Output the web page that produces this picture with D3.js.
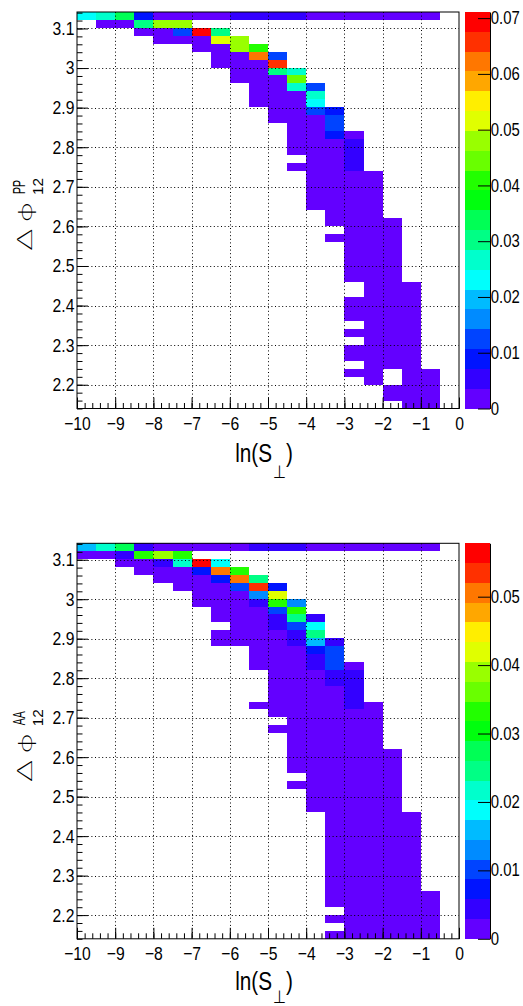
<!DOCTYPE html>
<html>
<head>
<meta charset="utf-8">
<script src="https://cdn.jsdelivr.net/npm/d3@7"></script>
<style>
  html, body { margin: 0; padding: 0; background: #fff; }
  svg { display: block; }
  text { font-family: "Liberation Sans", Arial, Helvetica, sans-serif; fill: #000; }
  .thin { font-family: "Noto Sans", "Open Sans", Inter, "Liberation Sans", sans-serif; font-weight: 200; }
</style>
</head>
<body>
<svg id="chart" width="523" height="1006"></svg>
<script>
// ---- axis definitions ----
const xDomain = [-10, 0];
const yDomain = [2.14, Math.PI];
const xBinWidth = 0.5;
const yBinCount = 50;
const yTopEdge = 3.14;   // nominal upper edge of the highest y bin
const yStep = 0.02;      // nominal y bin width
const xTicks = [-10, -9, -8, -7, -6, -5, -4, -3, -2, -1, 0];
const yTicks = [2.2, 2.3, 2.4, 2.5, 2.6, 2.7, 2.8, 2.9, 3.0, 3.1];
const ppZTicks = [0, 0.01, 0.02, 0.03, 0.04, 0.05, 0.06, 0.07];
const aaZTicks = [0, 0.01, 0.02, 0.03, 0.04, 0.05];
const ppZMax = 0.0711;
const aaZMax = 0.0578;

// ---- bin contents: [x low edge, upper y edge of first bin, contents going down in y] ----
const ppBins = [
  [-10, 3.14, [0.0231]],
  [-9.5, 3.14, [0.0267, 0.0015]],
  [-9, 3.14, [0.0338, 0.0015]],
  [-8.5, 3.14, [0.0089, 0.0302, 0.0015]],
  [-8, 3.14, [0.0015, 0.0480, 0.0015, 0.0015]],
  [-7.5, 3.14, [0.0015, 0.0480, 0.0124, 0.0015]],
  [-7, 3.14, [0.0015]],
  [-7, 3.10, [0.0711, 0.0015, 0.0015]],
  [-6.5, 3.14, [0.0015]],
  [-6.5, 3.10, [0.0302, 0.0516, 0.0015, 0.0015, 0.0015]],
  [-6, 3.14, [0.0053]],
  [-6, 3.08, [0.0480, 0.0480, 0.0015, 0.0015, 0.0015, 0.0015]],
  [-5.5, 3.14, [0.0053]],
  [-5.5, 3.06, [0.0409, 0.0622, 0.0015, 0.0015, 0.0015, 0.0015, 0.0015, 0.0015]],
  [-5, 3.14, [0.0053]],
  [-5, 3.04, [0.0124, 0.0658, 0.0302, 0.0015, 0.0015, 0.0015, 0.0015, 0.0015, 0.0015]],
  [-4.5, 3.14, [0.0053]],
  [-4.5, 3.00, [0.0267, 0.0444, 0.0267, 0.0015, 0.0015, 0.0015, 0.0015, 0.0015, 0.0015, 0.0015, 0.0015]],
  [-4.5, 2.76, [0.0015]],
  [-4, 3.14, [0.0015]],
  [-4, 2.96, [0.0124, 0.0267, 0.0231, 0.0124, 0.0015, 0.0015, 0.0015, 0.0015, 0.0015, 0.0015,
              0.0015, 0.0015, 0.0015, 0.0015, 0.0015, 0.0015]],
  [-3.5, 3.14, [0.0015]],
  [-3.5, 2.90, [0.0089, 0.0124, 0.0124, 0.0089, 0.0015, 0.0015, 0.0015, 0.0015, 0.0015, 0.0015,
                0.0015, 0.0015, 0.0015, 0.0015, 0.0015]],
  [-3.5, 2.58, [0.0015]],
  [-3, 3.14, [0.0015]],
  [-3, 2.84, [0.0015, 0.0053, 0.0053, 0.0053, 0.0053, 0.0015, 0.0015, 0.0015, 0.0015, 0.0015,
              0.0015, 0.0015, 0.0015, 0.0015, 0.0015, 0.0015, 0.0015, 0.0015, 0.0015]],
  [-3, 2.42, [0.0015, 0.0015, 0.0015]],
  [-3, 2.34, [0.0015]],
  [-3, 2.30, [0.0015, 0.0015]],
  [-3, 2.24, [0.0015]],
  [-2.5, 3.14, [0.0015]],
  [-2.5, 2.74, [0.0015, 0.0015, 0.0015, 0.0015, 0.0015, 0.0015, 0.0015, 0.0015, 0.0015, 0.0015,
                0.0015, 0.0015, 0.0015, 0.0015, 0.0015, 0.0015, 0.0015, 0.0015, 0.0015, 0.0015,
                0.0015, 0.0015, 0.0015, 0.0015, 0.0015, 0.0015, 0.0015]],
  [-2, 3.14, [0.0015]],
  [-2, 2.62, [0.0015, 0.0015, 0.0015, 0.0015, 0.0015, 0.0015, 0.0015, 0.0015, 0.0015, 0.0015,
              0.0015, 0.0015, 0.0015, 0.0015, 0.0015, 0.0015, 0.0015, 0.0015, 0.0015]],
  [-2, 2.20, [0.0015, 0.0015]],
  [-1.5, 3.14, [0.0015]],
  [-1.5, 2.46, [0.0015, 0.0015, 0.0015, 0.0015, 0.0015, 0.0015, 0.0015, 0.0015, 0.0015, 0.0015,
                0.0015, 0.0015, 0.0015, 0.0015, 0.0015, 0.0015]],
  [-1, 3.14, [0.0015]],
  [-1, 2.24, [0.0015, 0.0015, 0.0015, 0.0015, 0.0015]]
];

const aaBins = [
  [-10, 3.14, [0.0159, 0.0012]],
  [-9.5, 3.14, [0.0217, 0.0012]],
  [-9, 3.14, [0.0275, 0.0043, 0.0012]],
  [-8.5, 3.14, [0.0043, 0.0332, 0.0012, 0.0012]],
  [-8, 3.14, [0.0012, 0.0390, 0.0043, 0.0012, 0.0012]],
  [-7.5, 3.14, [0.0012, 0.0332, 0.0217, 0.0012, 0.0012, 0.0012]],
  [-7, 3.14, [0.0012]],
  [-7, 3.10, [0.0578, 0.0072, 0.0012, 0.0012, 0.0012, 0.0012]],
  [-6.5, 3.14, [0.0012]],
  [-6.5, 3.10, [0.0188, 0.0506, 0.0072, 0.0012, 0.0012, 0.0012, 0.0012, 0.0012]],
  [-6.5, 2.92, [0.0012, 0.0012]],
  [-6, 3.14, [0.0012]],
  [-6, 3.08, [0.0332, 0.0506, 0.0101, 0.0012, 0.0012, 0.0012, 0.0012, 0.0012, 0.0012, 0.0012]],
  [-5.5, 3.14, [0.0043]],
  [-5.5, 3.06, [0.0246, 0.0535, 0.0130, 0.0043, 0.0012, 0.0012, 0.0012, 0.0012, 0.0012, 0.0012,
                0.0012, 0.0012]],
  [-5.5, 2.74, [0.0012]],
  [-5, 3.14, [0.0043]],
  [-5, 3.04, [0.0072, 0.0419, 0.0332, 0.0101, 0.0043, 0.0043, 0.0012, 0.0012, 0.0012, 0.0012,
              0.0012, 0.0012, 0.0012, 0.0012, 0.0012, 0.0012, 0.0012]],
  [-5, 2.68, [0.0012]],
  [-4.5, 3.14, [0.0043]],
  [-4.5, 3.00, [0.0130, 0.0332, 0.0246, 0.0101, 0.0043, 0.0043, 0.0012, 0.0012, 0.0012, 0.0012,
                0.0012, 0.0012, 0.0012, 0.0012, 0.0012, 0.0012, 0.0012, 0.0012, 0.0012, 0.0012,
                0.0012, 0.0012]],
  [-4.5, 2.54, [0.0012]],
  [-4, 3.14, [0.0012]],
  [-4, 2.96, [0.0043, 0.0188, 0.0246, 0.0159, 0.0072, 0.0043, 0.0043, 0.0012, 0.0012, 0.0012,
              0.0012, 0.0012, 0.0012, 0.0012, 0.0012, 0.0012, 0.0012, 0.0012, 0.0012, 0.0012,
              0.0012, 0.0012, 0.0012, 0.0012, 0.0012]],
  [-3.5, 3.14, [0.0012]],
  [-3.5, 2.90, [0.0043, 0.0101, 0.0101, 0.0101, 0.0043, 0.0043, 0.0012, 0.0012, 0.0012, 0.0012,
                0.0012, 0.0012, 0.0012, 0.0012, 0.0012, 0.0012, 0.0012, 0.0012, 0.0012, 0.0012,
                0.0012, 0.0012, 0.0012, 0.0012, 0.0012, 0.0012, 0.0012, 0.0012, 0.0012, 0.0012,
                0.0012, 0.0012, 0.0012, 0.0012]],
  [-3.5, 2.20, [0.0012]],
  [-3.5, 2.16, [0.0012]],
  [-3, 3.14, [0.0012]],
  [-3, 2.84, [0.0012, 0.0043, 0.0043, 0.0043, 0.0043, 0.0043, 0.0012, 0.0012, 0.0012, 0.0012,
              0.0012, 0.0012, 0.0012, 0.0012, 0.0012, 0.0012, 0.0012, 0.0012, 0.0012, 0.0012,
              0.0012, 0.0012, 0.0012, 0.0012, 0.0012, 0.0012, 0.0012, 0.0012, 0.0012, 0.0012,
              0.0012, 0.0012, 0.0012, 0.0012, 0.0012]],
  [-2.5, 3.14, [0.0012]],
  [-2.5, 2.74, [0.0012, 0.0012, 0.0012, 0.0012, 0.0012, 0.0012, 0.0012, 0.0012, 0.0012, 0.0012,
                0.0012, 0.0012, 0.0012, 0.0012, 0.0012, 0.0012, 0.0012, 0.0012, 0.0012, 0.0012,
                0.0012, 0.0012, 0.0012, 0.0012, 0.0012, 0.0012, 0.0012, 0.0012, 0.0012, 0.0012]],
  [-2, 3.14, [0.0012]],
  [-2, 2.62, [0.0012, 0.0012, 0.0012, 0.0012, 0.0012, 0.0012, 0.0012, 0.0012, 0.0012, 0.0012,
              0.0012, 0.0012, 0.0012, 0.0012, 0.0012, 0.0012, 0.0012, 0.0012, 0.0012, 0.0012,
              0.0012, 0.0012, 0.0012, 0.0012]],
  [-1.5, 3.14, [0.0012]],
  [-1.5, 2.46, [0.0012, 0.0012, 0.0012, 0.0012, 0.0012, 0.0012, 0.0012, 0.0012, 0.0012, 0.0012,
                0.0012, 0.0012, 0.0012, 0.0012, 0.0012, 0.0012]],
  [-1, 3.14, [0.0012]],
  [-1, 2.26, [0.0012, 0.0012, 0.0012, 0.0012, 0.0012, 0.0012]]
];

// ---- 20-level violet-to-red spectrum (HLS hue sweep 280 -> 0) ----
function hlsToRgb(h, l, s) {
  const m2 = l <= 0.5 ? l * (1 + s) : l + s - l * s;
  const m1 = 2 * l - m2;
  const f = hue => {
    if (hue > 360) hue -= 360;
    if (hue < 0) hue += 360;
    if (hue < 60) return m1 + (m2 - m1) * hue / 60;
    if (hue < 180) return m2;
    if (hue < 240) return m1 + (m2 - m1) * (240 - hue) / 60;
    return m1;
  };
  return d3.rgb(255 * f(h + 120), 255 * f(h), 255 * f(h - 120)).formatHex();
}
const spectrum = d3.range(50).map(i => hlsToRgb(280 - (i + 1) * 5.6, 0.5, 1));
const levelColors = d3.range(20).map(k => spectrum[Math.floor((k + 0.99) * 50 / 20)]);

const svg = d3.select("#chart");
svg.append("rect").attr("width", 523).attr("height", 1006).attr("fill", "#fff");

const xScale = d3.scaleLinear().domain(xDomain).range([77, 459]);
const binH = (yDomain[1] - yDomain[0]) / yBinCount;
const SQ = 0.85;          // horizontal condensing of the tick lettering
const SQT = 0.83;         // horizontal condensing of the axis title
const tickFont = 18.5;

function expand(segments) {
  const out = [];
  segments.forEach(([xLow, yTop, values]) => {
    const r0 = Math.round((yTopEdge - yTop) / yStep);
    values.forEach((v, i) => {
      if (v > 0) out.push({ xLow, k: yBinCount - 1 - (r0 + i), v });
    });
  });
  return out;
}

function drawPanel(cfg) {
  const g = svg.append("g");
  const y = d3.scaleLinear().domain(yDomain).range([cfg.bottom, cfg.top]);
  const color = d3.scaleQuantize().domain([0, cfg.zMax]).range(levelColors);
  const cells = expand(cfg.bins);

  // cells
  g.append("g").attr("shape-rendering", "crispEdges")
    .selectAll("rect").data(cells).join("rect")
    .attr("x", d => xScale(d.xLow))
    .attr("width", d => xScale(d.xLow + xBinWidth) - xScale(d.xLow))
    .attr("y", d => y(yDomain[0] + (d.k + 1) * binH))
    .attr("height", d => y(yDomain[0] + d.k * binH) - y(yDomain[0] + (d.k + 1) * binH))
    .attr("fill", d => color(d.v));

  // dotted grid
  const grid = g.append("g").attr("stroke", "#000").attr("stroke-width", 1)
    .attr("stroke-dasharray", "1,2.6").attr("fill", "none");
  grid.selectAll("line.gx").data(xTicks.slice(1, -1)).join("line")
    .attr("x1", d => Math.round(xScale(d)) + 0.5).attr("x2", d => Math.round(xScale(d)) + 0.5)
    .attr("y1", cfg.top).attr("y2", cfg.bottom);
  grid.selectAll("line.gy").data(yTicks).join("line")
    .attr("y1", d => Math.round(y(d)) + 0.5).attr("y2", d => Math.round(y(d)) + 0.5)
    .attr("x1", 77).attr("x2", 459);

  // x axis: major + minor ticks pointing into the frame
  const xMinor = d3.range(-10, 0.001, 0.2).map(v => +v.toFixed(1));
  g.append("g").attr("transform", `translate(0,${cfg.bottom})`)
    .call(d3.axisBottom(xScale).tickValues(xMinor).tickSizeInner(-5.5).tickSizeOuter(0).tickFormat(""))
    .call(a => a.select(".domain").remove());
  const xa = g.append("g").attr("transform", `translate(0,${cfg.bottom})`)
    .call(d3.axisBottom(xScale).tickValues(xTicks).tickSizeInner(-11).tickSizeOuter(0).tickPadding(8)
      .tickFormat(d => d === 0 ? "0" : "\u2212" + Math.abs(d)));
  xa.select(".domain").remove();
  xa.selectAll("text").attr("font-size", tickFont).attr("font-family", null)
    .attr("transform", `scale(${SQ},1)`);

  // y axis
  const yMinor = d3.range(2.14, 3.1416, 0.02).map(v => +v.toFixed(2));
  g.append("g").attr("transform", "translate(77,0)")
    .call(d3.axisLeft(y).tickValues(yMinor).tickSizeInner(-5.5).tickSizeOuter(0).tickFormat(""))
    .call(a => a.select(".domain").remove());
  const ya = g.append("g").attr("transform", "translate(77,0)")
    .call(d3.axisLeft(y).tickValues(yTicks).tickSizeInner(-11).tickSizeOuter(0).tickPadding(3)
      .tickFormat(d3.format("~g")));
  ya.select(".domain").remove();
  ya.selectAll("text").attr("font-size", tickFont).attr("font-family", null)
    .attr("transform", `scale(${SQ},1)`);

  // frame
  g.append("rect").attr("x", 77).attr("y", cfg.top).attr("width", 459 - 77)
    .attr("height", cfg.bottom - cfg.top).attr("fill", "none").attr("stroke", "#000").attr("stroke-width", 1);

  // palette
  const z = d3.scaleLinear().domain([0, cfg.zMax]).range([cfg.bottom, cfg.top]);
  const bands = d3.range(20);
  g.append("g").attr("shape-rendering", "crispEdges")
    .selectAll("rect").data(bands).join("rect")
    .attr("x", 465).attr("width", 25)
    .attr("y", k => z((k + 1) * cfg.zMax / 20))
    .attr("height", k => z(k * cfg.zMax / 20) - z((k + 1) * cfg.zMax / 20))
    .attr("fill", k => levelColors[k]);
  const za = g.append("g").attr("transform", "translate(490,0)")
    .call(d3.axisRight(z).tickValues(cfg.zTicks).tickSizeInner(-12).tickSizeOuter(0).tickPadding(1)
      .tickFormat(d3.format("~g")));
  za.select(".domain").attr("stroke-width", 1);
  za.selectAll("text").attr("font-size", 17.5).attr("font-family", null)
    .attr("transform", `scale(${SQ},1)`);

  // x title: ln(S⊥)
  const xt = g.append("text")
    .attr("transform", `translate(264,${cfg.bottom + cfg.titleGap}) scale(${SQT},1)`)
    .attr("text-anchor", "middle").attr("font-size", 25);
  xt.append("tspan").text("ln(S");
  xt.append("tspan").attr("dy", cfg.subDrop).attr("dx", 1).attr("font-size", 18)
    .attr("font-family", "DejaVu Sans").text("\u22A5");
  xt.append("tspan").attr("dy", -cfg.subDrop).text(")");

  // y title: Δ φ with super/subscripts, read bottom-to-top
  const yt = g.append("g").attr("transform", `translate(32,${cfg.top + 238}) rotate(-90)`);
  const main = yt.append("g").attr("transform", "scale(1,0.6)");
  main.append("text").attr("class", "thin").attr("x", 0).attr("y", 0).attr("font-size", 34).text("\u0394");
  main.append("text").attr("class", "thin").attr("x", 28).attr("y", 0).attr("font-size", 30).text("\u03C6");
  yt.append("text").attr("x", 56).attr("y", -7).attr("font-size", 17)
    .attr("textLength", 14).attr("lengthAdjust", "spacingAndGlyphs").text(cfg.sup);
  yt.append("text").attr("x", 55).attr("y", 11).attr("font-size", 15)
    .attr("textLength", 17).attr("lengthAdjust", "spacingAndGlyphs").text("12");
}

drawPanel({ top: 12, bottom: 408.5, bins: ppBins, zMax: ppZMax, zTicks: ppZTicks, sup: "PP",
            titleGap: 53.4, subDrop: 16 });
drawPanel({ top: 543.3, bottom: 938.8, bins: aaBins, zMax: aaZMax, zTicks: aaZTicks, sup: "AA",
            titleGap: 51, subDrop: 13 });
</script>
</body>
</html>
